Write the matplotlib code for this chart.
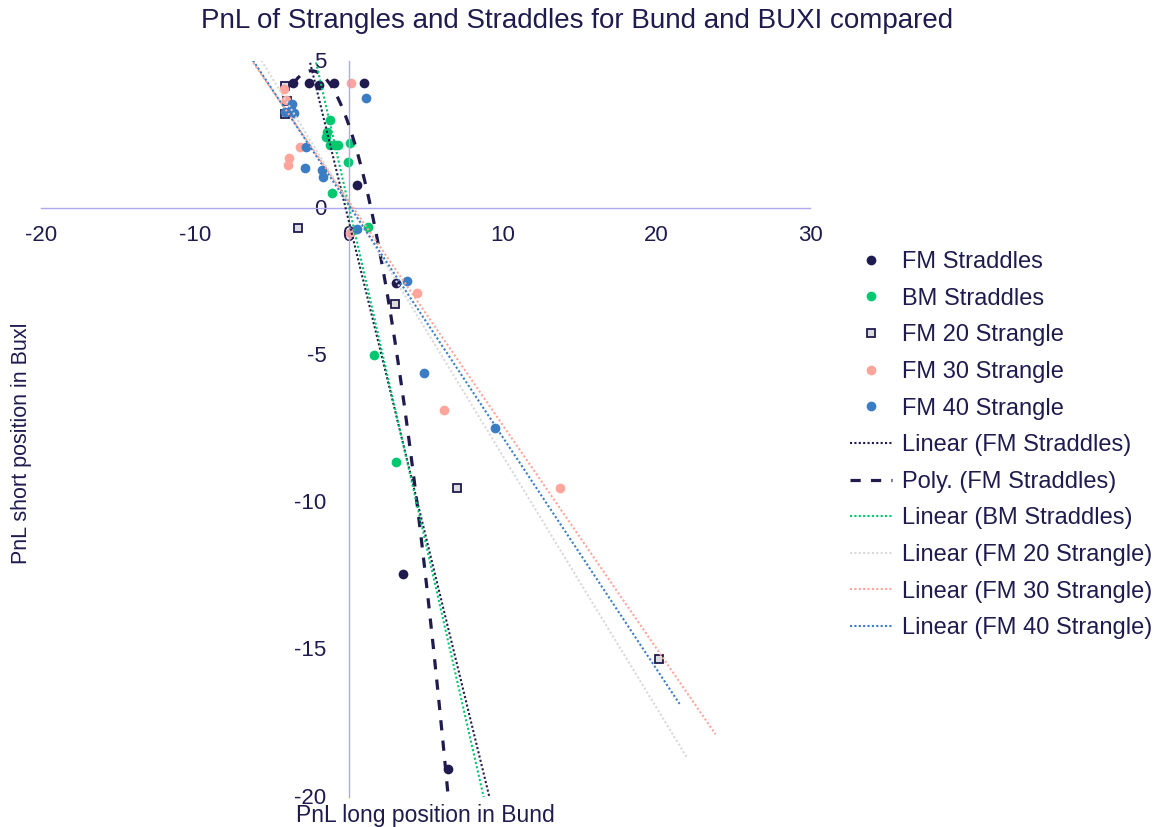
import numpy as np
import matplotlib.pyplot as plt
import matplotlib.transforms as mtransforms

plt.rcParams['font.family'] = ['Liberation Sans', 'DejaVu Sans']
plt.rcParams['axes.unicode_minus'] = False

NAVY = '#1f1b4f'
GREEN = '#00c86e'
PINK = '#ffa59c'
BLUE = '#3a7dc4'
GREY = '#d9d9d9'
AXIS = '#ada8ef'

# PnL long Bund (x) vs PnL short Buxl (y)
fm_straddles_x = [-3.61, -2.57, -1.92, -0.94, 1.01, 0.55, 3.09, 3.55, 6.48]
fm_straddles_y = [4.25, 4.25, 4.18, 4.25, 4.25, 0.78, -2.55, -12.41, -19.05]

bm_straddles_x = [-1.20, -1.40, -1.46, -1.20, -0.88, -0.68, 0.10, -0.03, -1.07, 1.27, 1.66, 3.09]
bm_straddles_y = [2.99, 2.59, 2.41, 2.14, 2.14, 2.14, 2.21, 1.56, 0.51, -0.65, -4.97, -8.61]

fm20_x = [-4.13, -4.00, -4.13, -3.29, 3.03, 7.06, 20.15]
fm20_y = [4.15, 3.64, 3.20, -0.68, -3.27, -9.52, -15.31]

fm30_x = [0.16, -4.20, -4.10, -3.16, -3.87, -3.94, 0.10, 4.46, 6.22, 13.77]
fm30_y = [4.25, 4.05, 3.67, 2.07, 1.70, 1.46, -0.85, -2.89, -6.84, -9.49]

fm40_x = [1.14, -3.68, -3.74, -3.55, -4.13, -2.77, -2.83, -1.73, -1.66, 0.55, 3.81, 4.92, 9.54]
fm40_y = [3.74, 3.54, 3.33, 3.23, 3.27, 2.07, 1.36, 1.29, 1.05, -0.71, -2.48, -5.61, -7.45]

# trendlines as shown in the chart (slope, intercept, x span)
lin_names = ['Linear (FM Straddles)', 'Linear (BM Straddles)', 'Linear (FM 20 Strangle)',
             'Linear (FM 30 Strangle)', 'Linear (FM 40 Strangle)']
lin_slope = [-2.14, -2.29, -0.856, -0.759, -0.788]
lin_icept = [-0.41, 0.11, 0.17, 0.24, 0.12]
lin_x0 = [-3.6, -3.0, -7.0, -7.0, -7.0]
lin_x1 = [9.4, 9.5, 21.98, 23.86, 21.52]
lin_colors = [NAVY, GREEN, GREY, PINK, BLUE]

poly_coef = [-0.3117, -1.506, 2.848]
poly_span = [-3.6, 6.5]

fig = plt.figure(figsize=(11.55, 8.27), dpi=100)
ax = fig.add_axes([41 / 1155, 1 - 797 / 827, 769 / 1155, 736 / 827])

ms = 7
ax.plot(fm_straddles_x, fm_straddles_y, 'o', color=NAVY, ms=ms, mew=0, label='FM Straddles')
ax.plot(bm_straddles_x, bm_straddles_y, 'o', color=GREEN, ms=ms, mew=0, label='BM Straddles')
ax.plot(fm20_x, fm20_y, 's', mfc='#dcdcdc', mec=NAVY, ms=6.3, mew=1.3, label='FM 20 Strangle')
ax.plot(fm30_x, fm30_y, 'o', color=PINK, ms=ms, mew=0, label='FM 30 Strangle')
ax.plot(fm40_x, fm40_y, 'o', color=BLUE, ms=ms, mew=0, label='FM 40 Strangle')

dots = (0, (1, 1.1))
for i in range(len(lin_names)):
    xs = np.array([lin_x0[i], lin_x1[i]])
    ax.plot(xs, lin_slope[i] * xs + lin_icept[i], color=lin_colors[i], lw=1.5,
            linestyle=dots, label=lin_names[i], zorder=3)
    if i == 0:
        px = np.linspace(poly_span[0], poly_span[1], 200)
        ax.plot(px, np.polyval(poly_coef, px), color=NAVY, lw=2.3,
                linestyle=(0, (3.2, 3.2)), label='Poly. (FM Straddles)', zorder=3)

ax.set_xlim(-20, 30)
ax.set_ylim(-20, 5)
ax.set_xticks([-20, -10, 0, 10, 20, 30])
ax.set_yticks([5, 0, -5, -10, -15, -20])

for side in ['top', 'right']:
    ax.spines[side].set_visible(False)
ax.spines['left'].set_position(('data', 0))
ax.spines['bottom'].set_position(('data', 0))
for side in ['left', 'bottom']:
    ax.spines[side].set_color(AXIS)
    ax.spines[side].set_linewidth(1.0)
ax.tick_params(axis='x', length=0, labelsize=16, labelcolor=NAVY, pad=12)
ax.tick_params(axis='y', length=0, labelsize=16, labelcolor=NAVY, pad=16)
# nudge the y tick labels up a little, as in the original
lift = mtransforms.ScaledTranslation(0, 1 / 72, fig.dpi_scale_trans)
for lbl in ax.get_yticklabels():
    lbl.set_verticalalignment('center_baseline')
    lbl.set_transform(lbl.get_transform() + lift)

ax.set_xlabel('PnL long position in Bund', fontsize=16.5, color=NAVY, va='baseline')
ax.xaxis.set_label_coords(0.5, -0.034)
ax.set_ylabel('PnL short position in Buxl', fontsize=15.5, color=NAVY)
ax.yaxis.set_label_coords(-0.012, 0.48)

fig.text(0.5, 0.99, 'PnL of Strangles and Straddles for Bund and BUXI compared',
         ha='center', va='top', fontsize=20, color=NAVY)

leg = ax.legend(loc='upper left', bbox_to_anchor=(850 / 1155, 1 - 251 / 827),
                bbox_transform=fig.transFigure, frameon=False, fontsize=17,
                handlelength=1.8, handletextpad=0.4, labelspacing=0.62,
                borderpad=0, borderaxespad=0, markerscale=1.0)
for t in leg.get_texts():
    t.set_color(NAVY)

fig.savefig('out.png', dpi=100)
